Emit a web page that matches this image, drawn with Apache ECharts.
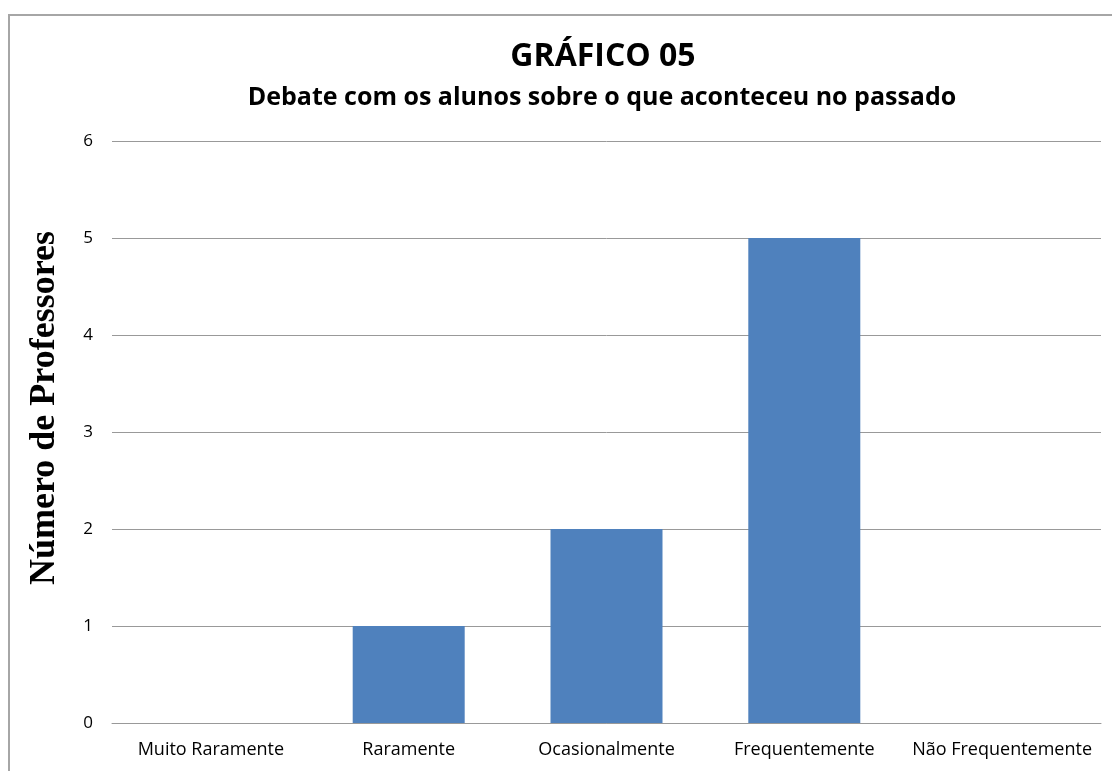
<!DOCTYPE html>
<html>
<head>
<meta charset="utf-8">
<script src="https://cdn.jsdelivr.net/npm/echarts@6/dist/echarts.min.js"></script>
<style>html,body{margin:0;padding:0;background:#fff}#c{width:1112px;height:771px}</style>
</head>
<body>
<div id="c"></div>
<script>
const categories = ["Muito Raramente", "Raramente", "Ocasionalmente", "Frequentemente", "Não Frequentemente"];
const values = [0, 1, 2, 5, 0];
const yTicks = [0, 1, 2, 3, 4, 5, 6];
const titleText = "GRÁFICO 05";
const subtitleText = "Debate com os alunos sobre o que aconteceu no passado";
const yAxisName = "Número de Professores";

const chart = echarts.init(document.getElementById('c'), null, {renderer: 'canvas'});
const sans = "'Open Sans', 'Noto Sans', sans-serif";
chart.setOption({
  animation: false,
  backgroundColor: '#fff',
  title: [
    {text: titleText, left: 598, textAlign: 'center', top: 36, textStyle: {fontFamily: sans, fontWeight: 'bold', fontSize: 32, color: '#000'}},
    {text: subtitleText, left: 597, textAlign: 'center', top: 80, textStyle: {fontFamily: sans, fontWeight: 'bold', fontSize: 25, color: '#000'}}
  ],
  graphic: [
    {type: 'rect', shape: {x: 9, y: 15, width: 1200, height: 900}, style: {fill: 'none', stroke: '#a6a6a6', lineWidth: 2}, silent: true},
    {type: 'text', x: 45, y: 408, rotation: Math.PI / 2, style: {text: yAxisName, font: "bold 36px 'Liberation Serif', serif", fill: '#000', textAlign: 'center', textVerticalAlign: 'middle'}}
  ],
  grid: {left: 112, right: 11, top: 141, bottom: 48},
  xAxis: {
    type: 'category', data: categories,
    axisLine: {show: true, lineStyle: {color: '#999', width: 1}},
    axisTick: {show: false},
    axisLabel: {fontFamily: sans, fontSize: 18, color: '#000', margin: 18, interval: 0}
  },
  yAxis: {
    type: 'value', min: yTicks[0], max: yTicks[yTicks.length - 1], interval: 1,
    axisLine: {show: false}, axisTick: {show: false},
    splitLine: {lineStyle: {color: '#999', width: 1}},
    axisLabel: {fontFamily: sans, fontSize: 17, color: '#000', margin: 19}
  },
  series: [{type: 'bar', data: values, barWidth: 112, itemStyle: {color: '#4f81bd'}}]
});
</script>
</body>
</html>
